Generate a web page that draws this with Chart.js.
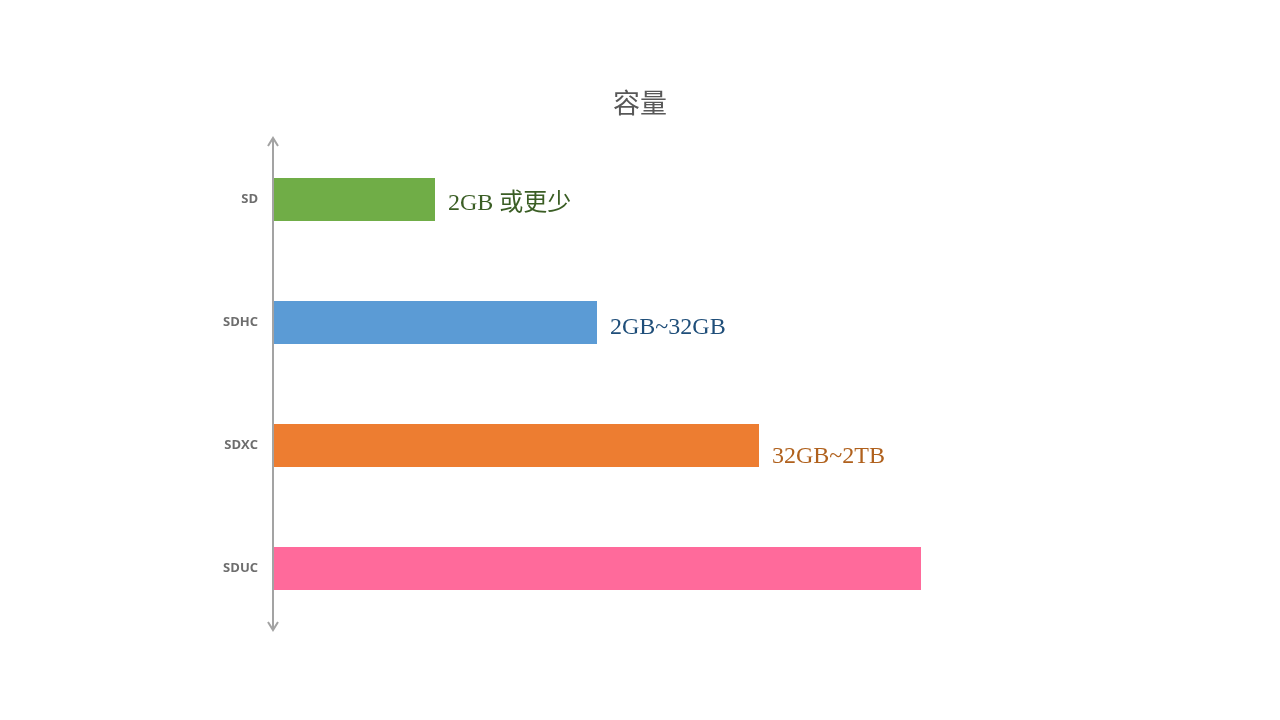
<!DOCTYPE html>
<html>
<head>
<meta charset="utf-8">
<script src="https://cdn.jsdelivr.net/npm/chart.js@4/dist/chart.umd.min.js"></script>
<style>
  html, body { margin: 0; padding: 0; background: #fff; }
  #wrap { width: 1280px; height: 720px; }
</style>
</head>
<body>
<div id="wrap"><canvas id="capChart"></canvas></div>
<script>
// data
const cardTypes = ['SD', 'SDHC', 'SDXC', 'SDUC'];
const capLevel = [1, 2, 3, 4];
const capText = ['2GB 或更少', '2GB~32GB', '32GB~2TB', '2TB~128TB'];
const barColors = ['#70ad47', '#5b9bd5', '#ed7d31', '#ff6a9b'];
const textColors = ['#3b5e25', '#1f4e79', '#b0611d', '#ffffff'];
const textDrop = [10, 11, 17, 10]; // baseline below bar centre, px

// y axis line with arrow heads at both ends
const arrowAxis = {
  id: 'arrowAxis',
  afterDatasetsDraw(chart) {
    const { ctx, chartArea } = chart;
    const x = chartArea.left;
    ctx.save();
    ctx.strokeStyle = '#a3a3a3';
    ctx.lineWidth = 2;
    ctx.beginPath();
    ctx.moveTo(x, chartArea.top);
    ctx.lineTo(x, chartArea.bottom);
    ctx.moveTo(x - 5, chartArea.top + 8);
    ctx.lineTo(x, chartArea.top);
    ctx.lineTo(x + 5, chartArea.top + 8);
    ctx.moveTo(x - 5, chartArea.bottom - 8);
    ctx.lineTo(x, chartArea.bottom);
    ctx.lineTo(x + 5, chartArea.bottom - 8);
    ctx.stroke();
    ctx.restore();
  }
};

// text labels at bar ends + title centred on the page
const barLabels = {
  id: 'barLabels',
  afterDatasetsDraw(chart) {
    const { ctx } = chart;
    const meta = chart.getDatasetMeta(0);
    ctx.save();
    ctx.font = '24px "Liberation Serif", "Noto Sans CJK SC", serif';
    ctx.textAlign = 'left';
    ctx.textBaseline = 'alphabetic';
    meta.data.forEach((bar, i) => {
      ctx.fillStyle = textColors[i];
      ctx.fillText(capText[i], bar.x + 13, bar.y + textDrop[i]);
    });
    ctx.fillStyle = '#585858';
    ctx.font = '27px "Noto Sans CJK SC", sans-serif';
    ctx.textAlign = 'center';
    ctx.textBaseline = 'middle';
    ctx.fillText('容量', chart.width / 2, 103);
    ctx.restore();
  }
};

const ctx = document.getElementById('capChart').getContext('2d');
const capChart = new Chart(ctx, {
  type: 'bar',
  data: {
    labels: cardTypes,
    datasets: [{
      data: capLevel,
      backgroundColor: barColors,
      categoryPercentage: 1,
      barPercentage: 0.35
    }]
  },
  options: {
    indexAxis: 'y',
    responsive: true,
    maintainAspectRatio: false,
    animation: false,
    layout: { padding: { top: 138, bottom: 90, left: 0, right: 197 } },
    plugins: {
      legend: { display: false },
      tooltip: { enabled: false },
      title: { display: false }
    },
    scales: {
      x: {
        display: false,
        min: 0,
        max: 5
      },
      y: {
        afterFit: scale => { scale.width = 273; },
        border: { display: false },
        grid: { display: false, drawTicks: false },
        ticks: {
          padding: 15,
          color: '#6e6e6e',
          font: { family: '"Open Sans", sans-serif', size: 13, weight: 'bold' }
        }
      }
    }
  },
  plugins: [arrowAxis, barLabels]
});
</script>
</body>
</html>
